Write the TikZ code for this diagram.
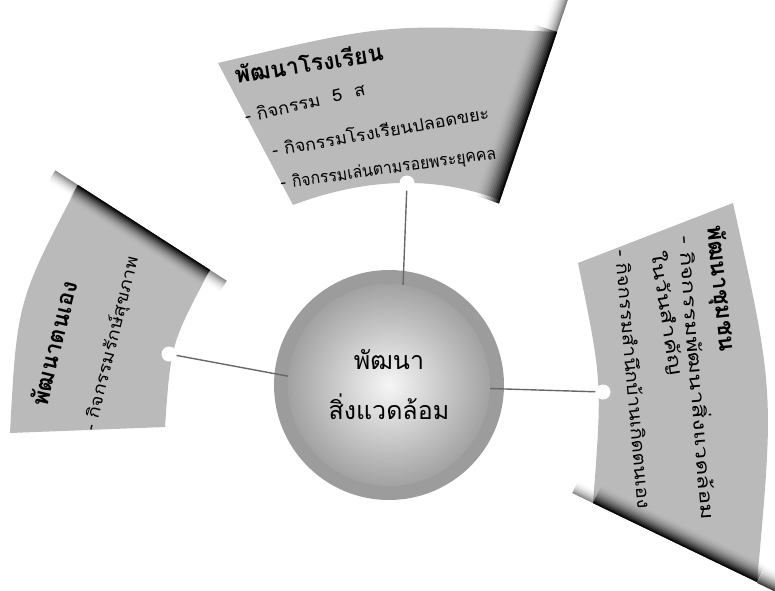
\documentclass[tikz,border=0pt]{standalone}
\usepackage{fontspec}
\usepackage{graphicx}
\newfontfamily\thai[Script=Thai]{Loma}
\definecolor{bannergray}{HTML}{BABABA}
\definecolor{ringgray}{HTML}{9C9C9C}
\definecolor{coreedge}{HTML}{A2A2A2}
\definecolor{corecenter}{HTML}{F6F6F6}
\definecolor{linegray}{HTML}{686868}
% shadow band along an edge: start x, start y, angle, length, width, max opacity
\newcommand{\edgeshadow}[6]{%
  \begin{scope}[shift={(#1,#2)}, rotate=#3]
    \foreach \j in {1,...,14}{%
      \pgfmathsetmacro\Tj{#6*((15-\j)/14)*((15-\j)/14)}%
      \pgfmathsetmacro\Tn{#6*((14-\j)/14)*((14-\j)/14)}%
      \pgfmathsetmacro\aj{1-(1-\Tj)/(1-\Tn)}%
      \fill[black, fill opacity=\aj] (0,0) rectangle (#4,{#5*\j/14});
    }
  \end{scope}}
\begin{document}
\begin{tikzpicture}[x=1pt,y=-1pt,
  banner/.style={fill=bannergray, draw=none},
  conn/.style={draw=linegray, line width=1.4pt},
  knob/.style={circle, fill=white, draw=none, inner sep=0pt, minimum size=15pt},
  headtxt/.style={font=\thai\bfseries\fontsize{23}{23}\selectfont, anchor=base west, inner sep=0pt},
  itemtxt/.style={font=\thai\fontsize{17}{17}\selectfont, anchor=base west, inner sep=0pt},
  ritemtxt/.style={font=\thai\fontsize{18}{18}\selectfont, anchor=base west, inner sep=0pt}]
\useasboundingbox (0,0) rectangle (775,590);

% banners
\fill[banner] (218,63) .. controls (385.3,23.6) .. (557,32) -- (500,200)
  .. controls (435.7,175.7) and (366.7,177.3) .. (293,205) -- cycle;
\fill[banner] (78,185) -- (210,270) .. controls (170.8,343.7) .. (165,427)
  -- (10,433) .. controls (17,301.6) .. (78,185) -- cycle;
\fill[banner] (578,263) -- (733,203) .. controls (774.3,390.7) .. (757,582)
  -- (593,503) .. controls (602.3,382) .. (578,263) -- cycle;

% fold shadows (main bands and their soft continuations)
\edgeshadow{557}{32}{-108.7}{181}{26}{0.93}
\edgeshadow{569.5}{-5}{-108.7}{39}{16}{0.5}
\edgeshadow{78}{185}{-32.75}{157}{18}{0.93}
\edgeshadow{55.3}{170.4}{-32.75}{27}{14}{0.45}
\edgeshadow{210}{270}{-32.75}{20}{14}{0.45}
\edgeshadow{757}{582}{154.3}{182}{20}{0.93}
\edgeshadow{593}{503}{154.3}{23}{14}{0.45}
\edgeshadow{779.6}{593.7}{154.3}{25}{20}{0.75}

% top banner text
\node[headtxt, rotate=9] (tTitle) at (236,84) {พัฒนาโรงเรียน};
\node[itemtxt, rotate=13] (tA) at (246,123) {\scalebox{1.08}[1]{- กิจกรรม\ \ 5\ \ ส}};
\node[itemtxt, rotate=10] (tB) at (273,157) {\scalebox{1.06}[1]{- กิจกรรมโรงเรียนปลอดขยะ}};
\node[itemtxt, rotate=8] (tC) at (281,189) {-\hspace{6pt}\scalebox{0.93}[1]{กิจกรรมเล่นตามรอยพระยุคคล}};

% left banner text
\node[headtxt, rotate=76] (lTitle) at (47,408) {พัฒนาตนเอง};
\node[itemtxt, rotate=76] (lA) at (95,432) {-\hspace{7pt}\scalebox{1.15}[1]{กิจกรรมรักษ์สุขภาพ}};

% right banner text
\node[headtxt, rotate=-84] (rTitle) at (707,226) {พัฒนาชุมชน};
\node[ritemtxt, rotate=-85.5] (rA) at (679,236) {\scalebox{1.34}[1]{- กิจกรรมพัฒนาสิ่งแวดล้อม}};
\node[ritemtxt, rotate=-81] (rA2) at (651,252) {\scalebox{1.36}[1]{ในวันสำคัญ}};
\node[ritemtxt, rotate=-85] (rB) at (615,250) {\scalebox{1.12}[1]{- กิจกรรมสำนึกบ้านเกิดตนเอง}};

% hub
\node[circle, fill=ringgray, minimum size=230pt, inner sep=0pt] (ring) at (389,385) {};
\node[circle, minimum size=202pt, inner sep=0pt, inner color=corecenter, outer color=coreedge,
  align=center, font=\thai\fontsize{25}{50}\selectfont] (core) at (389,385) {พัฒนา\\สิ่งแวดล้อม};

% knobs and connectors
\node[knob] (dotT) at (407,183) {};
\node[knob] (dotL) at (169,354) {};
\node[knob] (dotR) at (603,392) {};
\draw[conn] (dotT) -- (core.82);
\draw[conn] (dotL) -- (core.175);
\draw[conn] (dotR) -- (core.358);
\end{tikzpicture}
\end{document}
